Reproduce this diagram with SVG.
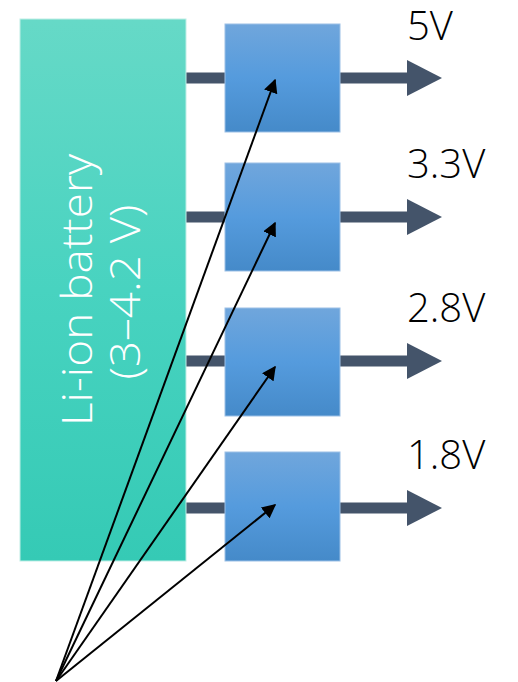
<svg xmlns="http://www.w3.org/2000/svg" width="518" height="682" viewBox="0 0 518 682">
<defs>
<linearGradient id="gBat" x1="0" y1="0" x2="0" y2="1">
<stop offset="0" stop-color="#66d9c7"/>
<stop offset="0.5" stop-color="#48d3c0"/>
<stop offset="1" stop-color="#35cab5"/>
</linearGradient>
<linearGradient id="gBox" x1="0" y1="0" x2="0" y2="1">
<stop offset="0" stop-color="#70a6dc"/>
<stop offset="0.5" stop-color="#559bdd"/>
<stop offset="1" stop-color="#458ac9"/>
</linearGradient>
<marker id="ah" viewBox="0 0 10 10" refX="9" refY="5" markerWidth="7" markerHeight="7" markerUnits="strokeWidth" orient="auto">
<path d="M0,0 L10,5 L0,10 Z" fill="#000"/>
</marker>
<g id="bus">
<rect x="186" y="-5.5" width="40" height="11"/>
<rect x="339" y="-5.5" width="69" height="11"/>
<polygon points="407,-18 442,0 407,18"/>
</g>
</defs>
<style>
.box{fill:url(#gBox);stroke:#9cc0e6;stroke-width:1}
.bus{fill:#44546a}
.lbl{font-family:"Open Sans","Liberation Sans",sans-serif;font-size:40px;font-weight:300;fill:#000}
.bat{font-family:"Open Sans","Liberation Sans",sans-serif;font-size:42px;font-weight:300;fill:#fff}
.ptr{stroke:#000;stroke-width:2;fill:none;marker-end:url(#ah)}
</style>
<g id="buses" class="bus">
<use href="#bus" y="78"/>
<use href="#bus" y="217"/>
<use href="#bus" y="361"/>
<use href="#bus" y="508"/>
</g>
<g id="battery">
<rect x="20" y="19" width="166" height="542" fill="url(#gBat)" stroke="#bfeee6" stroke-width="1"/>
<text class="bat" transform="translate(92,290) rotate(-90)" text-anchor="middle" textLength="272" lengthAdjust="spacingAndGlyphs">Li-ion battery</text>
<text class="bat" transform="translate(140,292) rotate(-90)" text-anchor="middle" textLength="175" lengthAdjust="spacingAndGlyphs">(3–4.2 V)</text>
</g>
<g id="reg1"><rect class="box" x="225" y="24" width="115" height="108"/></g>
<g id="reg2"><rect class="box" x="225" y="163" width="115" height="108"/></g>
<g id="reg3"><rect class="box" x="225" y="308" width="115" height="108"/></g>
<g id="reg4"><rect class="box" x="225" y="452" width="115" height="109"/></g>
<g id="labels">
<text class="lbl" x="407" y="40">5V</text>
<text class="lbl" x="407" y="178">3.3V</text>
<text class="lbl" x="407" y="322">2.8V</text>
<text class="lbl" x="407" y="469">1.8V</text>
</g>
<g id="pointers">
<line class="ptr" x1="56" y1="681" x2="275" y2="80"/>
<line class="ptr" x1="56" y1="681" x2="275" y2="223"/>
<line class="ptr" x1="56" y1="681" x2="275" y2="367"/>
<line class="ptr" x1="56" y1="681" x2="275" y2="505"/>
</g>
</svg>
